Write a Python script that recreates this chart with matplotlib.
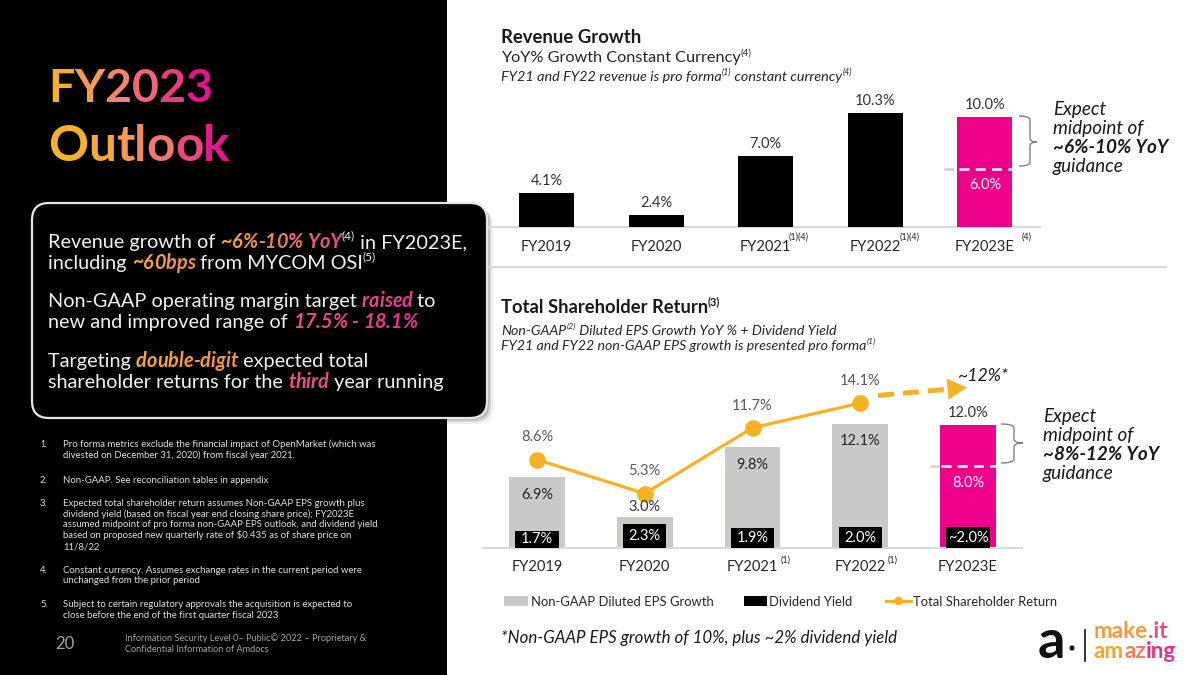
import numpy as np
import matplotlib
matplotlib.use("Agg")
import matplotlib.pyplot as plt
from matplotlib.patches import FancyBboxPatch, Rectangle, PathPatch, Circle
from matplotlib.path import Path
from matplotlib.colors import LinearSegmentedColormap

# ---------------- data ----------------
years = ["FY2019", "FY2020", "FY2021", "FY2022", "FY2023E"]
rev_sup = ["", "", "(1)(4)", "(1)(4)", "(4)"]
rev_growth = [4.1, 2.4, 7.0, 10.3, 10.0]
rev_labels = ["4.1%", "2.4%", "7.0%", "10.3%", "10.0%"]
rev_low = 6.0
rev_low_label = "6.0%"

tsr_sup = ["", "", "(1)", "(1)", ""]
eps_growth = [6.9, 3.0, 9.8, 12.1, 12.0]
eps_labels = ["6.9%", "3.0%", "9.8%", "12.1%", "12.0%"]
div_yield = [1.7, 2.3, 1.9, 2.0, 2.0]
div_labels = ["1.7%", "2.3%", "1.9%", "2.0%", "~2.0%"]
tsr_values = [8.6, 5.3, 11.7, 14.1]
tsr_labels = ["8.6%", "5.3%", "11.7%", "14.1%"]
tsr_target_label = "~12%*"
eps_low = 8.0
eps_low_label = "8.0%"

legend_labels = ["Non-GAAP Diluted EPS Growth", "Dividend Yield", "Total Shareholder Return"]

footnotes = [
    ("1.", ["Pro forma metrics exclude the financial impact of OpenMarket (which was",
            "divested on December 31, 2020) from fiscal year 2021."]),
    ("2.", ["Non-GAAP. See reconciliation tables in appendix"]),
    ("3.", ["Expected total shareholder return assumes Non-GAAP EPS growth plus",
            "dividend yield (based on fiscal year end closing share price); FY2023E",
            "assumed midpoint of pro forma non-GAAP EPS outlook, and dividend yield",
            "based on proposed new quarterly rate of $0.435 as of share price on",
            "11/8/22"]),
    ("4.", ["Constant currency. Assumes exchange rates in the current period were",
            "unchanged from the prior period"]),
    ("5.", ["Subject to certain regulatory approvals the acquisition is expected to",
            "close before the end of the first quarter fiscal 2023"]),
]
foot_baselines = [[447, 458], [483], [506, 517, 527, 538, 549], [573, 583], [607, 618]]

# ---------------- style ----------------
W, H = 1200, 675
FONT = ["Lato", "DejaVu Sans"]
PINK = "#EC008C"
ORANGE = "#F7B125"
GRAY = "#C9C9C7"
DARK = "#1A1A1A"
LBL = "#333333"
plt.rcParams["font.family"] = FONT

fig = plt.figure(figsize=(12, 6.75), dpi=100)
fig.patch.set_facecolor("white")
bg = fig.add_axes([0, 0, 1, 1], zorder=0)
bg.set_xlim(0, W)
bg.set_ylim(H, 0)
bg.axis("off")
bg.set_autoscale_on(False)
R = fig.canvas.get_renderer()


def adv(s, **kw):
    a = bg.text(0, 0, "|" + s + "|", **kw)
    b = bg.text(0, 0, "||", **kw)
    w = a.get_window_extent(R).width - b.get_window_extent(R).width
    a.remove()
    b.remove()
    return w


def runs(x, y, parts, size, color, target=None, sup_scale=0.6, sup_rise=0.42, zorder=4, track=0.0):
    def layout(sz, draw):
        cx = x
        for s, o in parts:
            sup = o.get("sup", False)
            kw = dict(fontsize=sz * (sup_scale if sup else 1.0),
                      fontweight=o.get("weight", "normal"),
                      fontstyle=o.get("style", "normal"), family=FONT)
            yy = y - (sz * sup_rise * 100 / 72 if sup else 0)
            grad = o.get("grad")
            if grad:
                cmap = LinearSegmentedColormap.from_list("g", list(grad))
                n = len(s)
                for i, ch in enumerate(s):
                    c = cmap(i / max(n - 1, 1))
                    if draw:
                        bg.text(cx, yy, ch, va="baseline", ha="left", color=c, zorder=zorder, **kw)
                    cx += adv(ch, **kw) + track
            else:
                if draw:
                    bg.text(cx, yy, s, va="baseline", ha="left",
                            color=o.get("color", color), zorder=zorder, **kw)
                cx += adv(s, **kw) + track
        return cx - x
    if target:
        w = layout(size, False)
        size = size * target / w
    layout(size, True)
    return size


def brace(x0, xm, xt, y0, ym, y1):
    r = 4
    verts = [(x0, y0), (xm, y0), (xm, y0 + r), (xm, ym - r), (xm, ym), (xt, ym),
             (xm, ym), (xm, ym + r), (xm, y1 - r), (xm, y1), (x0, y1)]
    codes = [Path.MOVETO, Path.CURVE3, Path.CURVE3, Path.LINETO, Path.CURVE3, Path.CURVE3,
             Path.CURVE3, Path.CURVE3, Path.LINETO, Path.CURVE3, Path.CURVE3]
    bg.add_patch(PathPatch(Path(verts, codes), fc="none", ec="#808080", lw=1.0, zorder=4))


# ---------------- left panel ----------------
for off, a in [(6, 0.12), (4, 0.2), (2.5, 0.3)]:
    bg.add_patch(FancyBboxPatch((32 + off, 203 + off), 455, 215,
                                boxstyle="round,pad=0,rounding_size=17",
                                fc="#7a7a7a", ec="none", alpha=a, zorder=0.5))
bg.add_patch(Rectangle((0, 0), 447, H, fc="black", ec="none", zorder=1))
bg.add_patch(FancyBboxPatch((32, 203), 455, 215, boxstyle="round,pad=0,rounding_size=17",
                            fc="black", ec="#E6E6E6", lw=1.6, zorder=2))

runs(48, 102, [("FY2023", {"weight": "bold",
                           "grad": ("#F9AE2B", "#F4906A", "#EE5A7E", "#E4158C")})],
     40, "k", target=164)
runs(48, 161, [("Outlook", {"weight": "bold",
                            "grad": ("#F9B02A", "#F49A55", "#F07A6E", "#E5178D")})],
     40, "k", target=182)

BI = dict(weight="bold", style="italic")
box_lines = [
    (248, [("Revenue growth of ", {}), ("~6%-10% YoY", dict(BI, grad=("#F6A24A", "#E84E80"))),
           ("(4)", {"sup": True}), (" in FY2023E,", {})]),
    (269, [("including ", {}), ("~60bps", dict(BI, grad=("#F6A83A", "#F08C55"))),
           (" from MYCOM OSI", {}), ("(5)", {"sup": True})]),
    (307, [("Non-GAAP operating margin target ", {}), ("raised", dict(BI, grad=("#E9488C", "#E63A90"))),
           (" to", {})]),
    (328, [("new and improved range of ", {}), ("17.5% - 18.1%", dict(BI, grad=("#E84C8A", "#E2358F")))]),
    (367, [("Targeting ", {}), ("double-digit", dict(BI, grad=("#F7A82F", "#F49048"))),
           (" expected total", {})]),
    (388, [("shareholder returns for the ", {}), ("third", dict(BI, grad=("#E8587A", "#E44C86"))),
           (" year running", {})]),
]
bsize = None
for y, parts in box_lines:
    if bsize is None:
        bsize = runs(48, y, parts, 13.5, "#F2F2F2", target=420)
    else:
        runs(48, y, parts, bsize, "#F2F2F2")

fsize = None
for (num, lines), bls in zip(footnotes, foot_baselines):
    bg.text(40, bls[0], num, fontsize=6.2 if fsize is None else fsize, color="#E0E0E0",
            va="baseline", zorder=4)
    for line, yb in zip(lines, bls):
        if fsize is None:
            fsize = runs(63, yb, [(line, {})], 6.2, "#E0E0E0", target=317)
        else:
            runs(63, yb, [(line, {})], fsize, "#E0E0E0")

bg.text(55, 649, "20", fontsize=12, color="#A6A6A6", va="baseline", zorder=4)
isz = runs(125, 641, [("Information Security Level 0\u2013 Public\u00a9 2022 \u2013 Proprietary &", {})],
           6.5, "#A6A6A6", target=241)
runs(125, 652, [("Confidential Information of Amdocs", {})], isz, "#A6A6A6")

# ---------------- chart titles ----------------
runs(501, 43, [("Revenue Growth", {"weight": "bold"})], 12.5, DARK, target=140)
runs(501, 62, [("YoY% Growth Constant Currency", {}), ("(4)", {"sup": True})], 11.5, "#262626", target=251)
runs(501, 81, [("FY21 and FY22 revenue is pro forma", {"style": "italic"}),
               ("(1)", {"sup": True, "style": "italic"}),
               (" constant currency", {"style": "italic"}),
               ("(4)", {"sup": True, "style": "italic"})], 9, "#262626", target=349)

runs(501, 313, [("Total Shareholder Return", {"weight": "bold"}),
                ("(3)", {"sup": True, "weight": "bold"})], 12.5, DARK, target=220)
runs(501, 335, [("Non-GAAP", {"style": "italic"}), ("(2)", {"sup": True, "style": "italic"}),
                (" Diluted EPS Growth YoY % + Dividend Yield", {"style": "italic"})],
     9.5, "#262626", target=337)
runs(501, 350, [("FY21 and FY22 non-GAAP EPS growth is presented pro forma", {"style": "italic"}),
                ("(1)", {"sup": True, "style": "italic"})], 9.5, "#262626", target=374)

bg.plot([487, 1166], [267, 267], color="#D9D9D9", lw=1.5, zorder=1.5)

# right annotations
asz = runs(1053, 134, [("midpoint of", {"style": "italic"})], 13, DARK, target=90)
runs(1053, 115, [("Expect", {"style": "italic"})], asz, DARK)
runs(1053, 153, [("~6%-10% YoY", BI)], asz, DARK)
runs(1053, 172, [("guidance", {"style": "italic"})], asz, DARK)
brace(1019, 1030, 1037, 116, 142, 166)

runs(1043, 422, [("Expect", {"style": "italic"})], asz, DARK)
runs(1043, 441, [("midpoint of", {"style": "italic"})], asz, DARK)
runs(1043, 460, [("~8%-12% YoY", BI)], asz, DARK)
runs(1043, 479, [("guidance", {"style": "italic"})], asz, DARK)
brace(1001, 1014, 1023, 424, 443, 463)

runs(958, 381, [(tsr_target_label, {"style": "italic"})], 13, DARK, target=51)

# legend
bg.add_patch(Rectangle((504, 596), 24, 10, fc=GRAY, ec="none", zorder=4))
bg.add_patch(Rectangle((744, 596), 23, 10, fc="black", ec="none", zorder=4))
bg.plot([886, 911], [601, 601], color=ORANGE, lw=2.3, zorder=4)
bg.add_patch(Circle((898.5, 601), 4.2, fc=ORANGE, ec="none", zorder=5))
lsz = runs(531, 606, [(legend_labels[0], {})], 10.5, "#262626", target=184)
runs(769, 606, [(legend_labels[1], {})], lsz, "#262626")
runs(913, 606, [(legend_labels[2], {})], lsz, "#262626")

runs(501, 643, [("*Non-GAAP EPS growth of 10%, plus ~2% dividend yield", {"style": "italic"})],
     12, DARK, target=396)

# logo
bg.text(1038, 658, "a", fontsize=39, fontweight="bold", color="#111111", va="baseline", zorder=4)
bg.add_patch(Circle((1072, 648), 2.6, fc="#111111", ec="none", zorder=4))
bg.plot([1085, 1085], [630, 661], color="#111111", lw=1.2, zorder=4)
msz = runs(1094, 638.5, [("make", {"weight": "bold", "color": "#F49B3A"}),
                         (".it", {"weight": "bold", "color": "#EA4C7E"})], 14, "k", target=74)
runs(1094, 658.5, [("am", {"weight": "bold", "color": "#F6A52B"}),
                   ("az", {"weight": "bold", "color": "#F07F5E"}),
                   ("ing", {"weight": "bold", "color": "#E6318A"})], msz, "k")


# ---------------- charts ----------------
def pax(x0, y0, x1, y1):
    ax = fig.add_axes([x0 / W, 1 - y1 / H, (x1 - x0) / W, (y1 - y0) / H], zorder=5)
    ax.patch.set_alpha(0)
    for s in ["top", "right", "left"]:
        ax.spines[s].set_visible(False)
    ax.spines["bottom"].set_color("#D9D9D9")
    ax.spines["bottom"].set_linewidth(1.5)
    ax.set_xticks([])
    ax.set_yticks([])
    return ax


x = np.arange(len(years))

# top chart: revenue growth
ax1 = pax(489, 90, 1040, 227)
ax1.set_xlim(-0.525, 4.503)
ax1.set_ylim(1.5, 12.05)
ax1.bar(x, rev_growth, width=0.5, color=["black"] * 4 + [PINK], zorder=3)
for i, (v, l) in enumerate(zip(rev_growth, rev_labels)):
    ax1.annotate(l, (i, v), xytext=(0, 3.5), textcoords="offset points", ha="center",
                 va="bottom", fontsize=10.5, color=LBL, zorder=6)
ax1.plot([3.63, 3.745], [rev_low, rev_low], color="#D0D0D0", lw=1.8, ls=(0, (4, 2.5)), zorder=4)
ax1.plot([3.76, 4.25], [rev_low, rev_low], color="white", lw=1.8, ls=(0, (4, 2.5)), zorder=4)
ax1.annotate(rev_low_label, (4, rev_low), xytext=(0, -6.5), textcoords="offset points",
             ha="center", va="top", fontsize=10.5, color="white", zorder=6)
sup_dx1 = [0, 0, 16.5, 17.5, 26.5]
for i, (yr, sp) in enumerate(zip(years, rev_sup)):
    ax1.annotate(yr, (i, 0), xycoords=("data", "axes fraction"), xytext=(0, -14.3),
                 textcoords="offset points", ha="center", va="center", fontsize=10.5, color="#262626")
    if sp:
        ax1.annotate(sp, (i, 0), xycoords=("data", "axes fraction"), xytext=(sup_dx1[i], -7),
                     textcoords="offset points", ha="left", va="center", fontsize=6.5, color="#262626")

# bottom chart: total shareholder return
ax2 = pax(483, 360, 1022, 548)
ax2.set_xlim(-0.501, 4.501)
ax2.set_ylim(0, 18.3)
ax2.bar(x, eps_growth, width=0.516, color=[GRAY] * 4 + [PINK], zorder=2)
ax2.bar(x, div_yield, width=0.40, color="black", zorder=3)
ax2.plot(x[:len(tsr_values)], tsr_values, color=ORANGE, lw=2.3, marker="o", ms=11, zorder=4)

inside = [True, False, True, True, False]
for i, (v, l) in enumerate(zip(eps_growth, eps_labels)):
    if inside[i]:
        ax2.annotate(l, (i, v), xytext=(0, -7.5), textcoords="offset points", ha="center",
                     va="top", fontsize=10.5, color="#262626", zorder=6)
    else:
        ax2.annotate(l, (i, v), xytext=(0, 2.5 if i == 1 else 3.5), textcoords="offset points",
                     ha="center", va="bottom", fontsize=10.5, color=LBL, zorder=6)
for i, (v, l) in enumerate(zip(div_yield, div_labels)):
    ax2.annotate(l, (i, v / 2), ha="center", va="center", fontsize=10.5, color="white", zorder=6)
for i, (v, l) in enumerate(zip(tsr_values, tsr_labels)):
    ax2.annotate(l, (i, v), xytext=(0, 16), textcoords="offset points", ha="center",
                 va="center", fontsize=10.5, color="#595959", zorder=6)
ax2.plot([3.647, 3.735], [eps_low, eps_low], color="#D0D0D0", lw=1.8, ls=(0, (4, 2.5)), zorder=4)
ax2.plot([3.75, 4.258], [eps_low, eps_low], color="white", lw=1.8, ls=(0, (4, 2.5)), zorder=4)
ax2.annotate(eps_low_label, (4, eps_low), xytext=(0, -7), textcoords="offset points",
             ha="center", va="top", fontsize=10.5, color="white", zorder=6)

# dashed arrow toward the FY2023E expectation
last = len(tsr_values) - 1
p0 = (last + 0.165, tsr_values[-1] + 0.75)
p1 = (last + 0.99, tsr_values[-1] + 1.53)
frac = 0.86
pm = (p0[0] + (p1[0] - p0[0]) * frac, p0[1] + (p1[1] - p0[1]) * frac)
ax2.plot([p0[0], pm[0]], [p0[1], pm[1]], color=ORANGE, lw=3.6, ls=(0, (3.2, 1.8)),
         solid_capstyle="butt", dash_capstyle="butt", zorder=4, clip_on=False)
ax2.annotate("", xy=p1, xytext=(pm[0] - 0.01, pm[1] - 0.01),
             arrowprops=dict(arrowstyle="-|>,head_length=0.6,head_width=0.33", mutation_scale=22,
                             color=ORANGE, lw=0.5, shrinkA=0, shrinkB=0), zorder=5,
             annotation_clip=False)

sup_dx2 = [0, 0, 20, 20, 0]
for i, (yr, sp) in enumerate(zip(years, tsr_sup)):
    ax2.annotate(yr, (i, 0), xycoords=("data", "axes fraction"), xytext=(0, -13.7),
                 textcoords="offset points", ha="center", va="center", fontsize=10.5, color="#262626")
    if sp:
        ax2.annotate(sp, (i, 0), xycoords=("data", "axes fraction"), xytext=(sup_dx2[i], -8.6),
                     textcoords="offset points", ha="left", va="center", fontsize=6.5, color="#262626")

bg.set_xlim(0, W)
bg.set_ylim(H, 0)
fig.savefig("out.png", dpi=100, facecolor="white")
